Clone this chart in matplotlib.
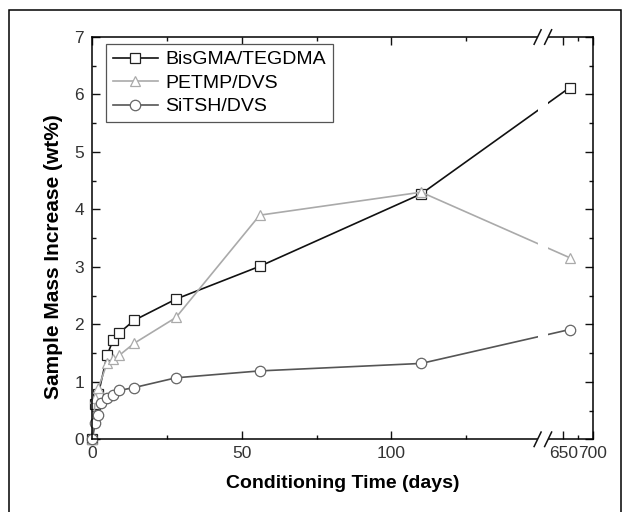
import numpy as np
import matplotlib
matplotlib.use('Agg')
import matplotlib.pyplot as plt
from matplotlib.patches import Rectangle

plt.rcParams['font.family'] = ['Liberation Sans', 'DejaVu Sans']

# data (days, wt%)
days_bis = [0, 1, 2, 5, 7, 9, 14, 28, 56, 110, 661]
mass_bis = [0, 0.62, 0.78, 1.47, 1.73, 1.85, 2.07, 2.44, 3.01, 4.27, 6.12]

days_pet = [0, 1, 2, 5, 7, 9, 14, 28, 56, 110, 661]
mass_pet = [0, 0.72, 0.89, 1.33, 1.39, 1.46, 1.67, 2.12, 3.90, 4.30, 3.16]

days_sit = [0, 1, 2, 3, 5, 7, 9, 14, 28, 56, 110, 661]
mass_sit = [0, 0.28, 0.43, 0.64, 0.72, 0.77, 0.85, 0.90, 1.07, 1.19, 1.32, 1.91]

x_major = [0, 50, 100, 650, 700]
x_minor = [25, 75, 125, 675]

# broken x axis: 0..151 normal, 617..700 compressed
A, B, K = 151.0, 617.0, 0.1967
EPS = 0.01


def fwd(x):
    x = np.asarray(x, dtype=float)
    return np.where(x <= A, x,
                    np.where(x >= B, A + EPS + (x - B) * K,
                             A + (x - A) / (B - A) * EPS))


def inv(y):
    y = np.asarray(y, dtype=float)
    return np.where(y <= A, y,
                    np.where(y >= A + EPS, B + (y - A - EPS) / K,
                             A + (y - A) / EPS * (B - A)))


fig = plt.figure(figsize=(6.29, 5.12), dpi=100)
ax = fig.add_axes([0.1467, 0.1420, 0.7955, 0.7857])
ax.set_xscale('function', functions=(fwd, inv))

ax.plot(days_bis, mass_bis, '-s', color='#111111', lw=1.2, ms=6.5,
        mfc='white', mec='#222222', mew=0.9, label='BisGMA/TEGDMA', clip_on=False)
ax.plot(days_pet, mass_pet, '-^', color='#aaaaaa', lw=1.2, ms=7.5,
        mfc='white', mec='#aaaaaa', mew=0.9, label='PETMP/DVS', clip_on=False)
ax.plot(days_sit, mass_sit, '-o', color='#555555', lw=1.2, ms=7.5,
        mfc='white', mec='#666666', mew=0.9, label='SiTSH/DVS', clip_on=False)

ax.set_xlim(0, 700)
ax.set_ylim(0, 7)
ax.set_xticks(x_major)
ax.set_xticklabels([str(v) for v in x_major])
ax.set_xticks(x_minor, minor=True)
ax.set_yticks(range(0, 8))
ax.set_yticks(np.arange(0.5, 7, 1.0), minor=True)

ax.tick_params(which='both', direction='in', top=True, right=True,
               width=1.0, colors='#111111', labelcolor='#333333', labelsize=12.5)
ax.tick_params(which='major', length=5.8)
ax.tick_params(which='minor', length=3)
ax.tick_params(axis='y', pad=6)
ax.tick_params(axis='x', pad=5)
for s in ax.spines.values():
    s.set_linewidth(1.1)

ax.set_xlabel('Conditioning Time (days)', fontsize=14, fontweight='bold', labelpad=10)
ax.set_ylabel('Sample Mass Increase (wt%)', fontsize=15, fontweight='bold')
ax.yaxis.set_label_coords(-0.058, 0.455)

leg = ax.legend(loc='upper left', bbox_to_anchor=(0.0274, 0.9826), borderaxespad=0,
                fontsize=14, handlelength=2.3, handletextpad=0.4, labelspacing=0.3,
                borderpad=0.35, fancybox=False, framealpha=1)
leg.get_frame().set_edgecolor('#555555')
leg.get_frame().set_linewidth(0.9)

# axis break
bx0, bx1 = 0.890, 0.911
ax.add_patch(Rectangle((bx0, -0.02), bx1 - bx0, 1.04, transform=ax.transAxes,
                       facecolor='white', edgecolor='none', zorder=5, clip_on=False))
for xb in (bx0, bx1):
    for yb in (0.0, 1.0):
        ax.plot([xb - 0.007, xb + 0.007], [yb - 0.018, yb + 0.018], transform=ax.transAxes,
                color='#111111', lw=1.1, zorder=6, clip_on=False)

# outer frame
fig.patches.append(Rectangle((8.8 / 629, -0.1), (620.5 - 8.8) / 629, 1.08,
                             transform=fig.transFigure, fill=False,
                             edgecolor='black', linewidth=1.1))

fig.savefig('out.png', dpi=100)
plt.close(fig)
